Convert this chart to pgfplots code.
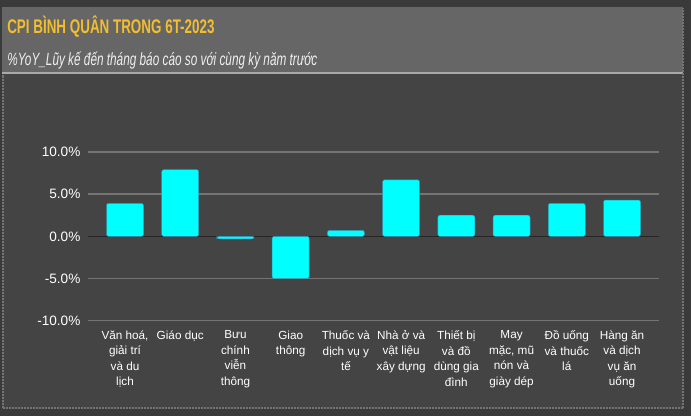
\documentclass[border=0pt]{standalone}
\usepackage{fontspec}
\setmainfont{Liberation Sans}
\newfontfamily\titlefont[FakeStretch=0.68]{Liberation Sans Bold}
\newfontfamily\subfont[FakeStretch=0.665]{Liberation Sans Italic}
\usepackage{pgfplots}
\pgfplotsset{compat=1.18}

\definecolor{outerbg}{HTML}{3A3A3A}
\definecolor{chartbg}{HTML}{444444}
\definecolor{bandbg}{HTML}{666666}
\definecolor{bandline}{HTML}{A8A8A8}
\definecolor{titlegold}{HTML}{F2BE2E}
\definecolor{gridgray}{HTML}{747474}
\definecolor{zeroline}{HTML}{262626}
\definecolor{barcyan}{HTML}{00FFFF}

\begin{document}
\begin{tikzpicture}
% background, 1px = 0.75pt
\fill[outerbg] (0,0) rectangle (518.25pt,312pt);
\useasboundingbox (0,0) rectangle (518.25pt,312pt);
\fill[chartbg] (1.5pt,5.25pt) rectangle (512.25pt,256.5pt);
\fill[bandbg] (1.5pt,258pt) rectangle (512.25pt,306.75pt);
\fill[bandline] (1.5pt,256.5pt) rectangle (512.25pt,258pt);
\draw[gridgray, line width=0.9pt, dash pattern=on 1.5pt off 0.75pt]
  (2.25pt,6pt) -- (2.25pt,256pt)
  (512.25pt,6pt) -- (512.25pt,306pt)
  (2.25pt,6pt) -- (512.25pt,6pt);

\node[anchor=base west, inner sep=0pt, text=titlegold, font=\titlefont\fontsize{14.8}{16}\selectfont]
  at (5.25pt,286.5pt) {CPI BÌNH QUÂN TRONG 6T-2023};
\node[anchor=base west, inner sep=0pt, text=white!94!black, font=\subfont\fontsize{13.3}{15}\selectfont]
  at (5.25pt,262.5pt) {\%YoY\_Lũy kế đến tháng báo cáo so với cùng kỳ năm trước};

\begin{axis}[
    at={(66pt,71.5pt)}, anchor=south west,
    scale only axis,
    width=428.25pt, height=126.5pt,
    ybar, bar width=27.75pt,
    xmin=-0.67, xmax=9.67,
    ymin=-10, ymax=10,
    ytick={-10,-5,0,5,10},
    xtick=data,
    xticklabels={
      {Văn hoá,\\giải trí\\và du\\lịch},
      {Giáo dục},
      {Bưu\\chính\\viễn\\thông},
      {Giao\\thông},
      {Thuốc và\\dịch vụ y\\tế},
      {Nhà ở và\\vật liệu\\xây dựng},
      {Thiết bị\\và đồ\\dùng gia\\đình},
      {May\\mặc, mũ\\nón và\\giày dép},
      {Đồ uống\\và thuốc\\lá},
      {Hàng ăn\\và dịch\\vụ ăn\\uống}},
    xticklabel style={align=center, anchor=north, inner sep=0pt, yshift=-3pt,
      text=white, font=\fontsize{8.8}{11.6}\selectfont},
    yticklabel={\pgfmathprintnumber[fixed,fixed zerofill,precision=1]{\tick}\%},
    yticklabel style={anchor=east, inner sep=0pt, xshift=-5.5pt,
      text=white, font=\fontsize{10.2}{12}\selectfont,
      /pgf/number format/assume math mode=true},
    axis line style={draw=none},
    tick style={draw=none},
    ymajorgrids=true,
    major grid style={gridgray, line width=1.1pt},
    extra y ticks={0},
    extra y tick labels={},
    extra y tick style={major grid style={zeroline, line width=1.2pt}},
    clip=false,
]
\addplot[fill=barcyan, draw=cyan!70!black, line width=0.3pt, rounded corners=1.5pt]
  coordinates {(0,3.9) (1,7.9) (2,-0.3) (3,-5.0) (4,0.7) (5,6.7) (6,2.5) (7,2.5) (8,3.9) (9,4.3)};
\end{axis}
\end{tikzpicture}
\end{document}
